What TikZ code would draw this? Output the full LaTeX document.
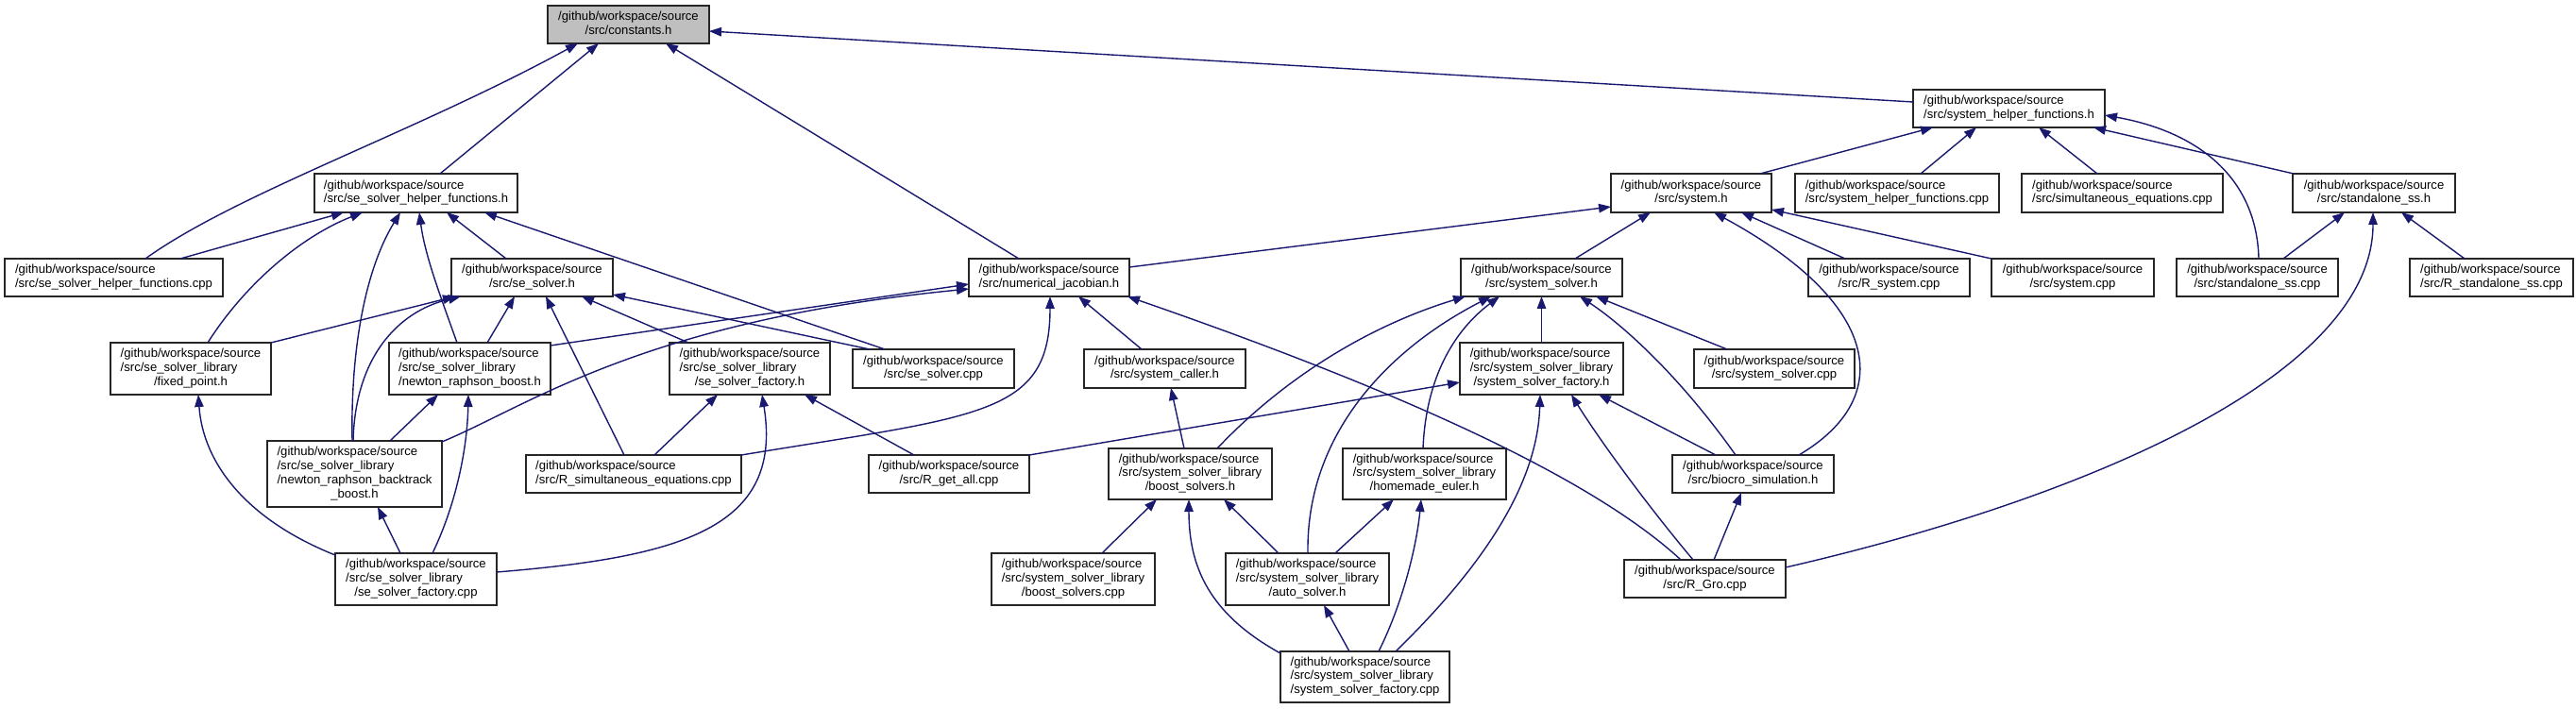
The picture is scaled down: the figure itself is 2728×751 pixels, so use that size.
\documentclass[tikz,border=0pt]{standalone}
\usepackage{fontspec}
\setmainfont{Liberation Sans}
\usetikzlibrary{arrows.meta}
\definecolor{mb}{HTML}{191970}
\definecolor{nodegray}{HTML}{BFBFBF}
\newcommand{\lbl}[2]{\begin{tabular}{@{}l@{}}#1\\\multicolumn{1}{@{}c@{}}{#2}\end{tabular}}
\newcommand{\gws}{/github/workspace/source}
\newcommand{\bx}[6]{\node[box,minimum width=#4pt,minimum height=#5pt] (#1) at (#2,#3) {#6};}
\begin{document}
\begin{tikzpicture}[x=1pt,y=-1pt,
  box/.style={draw=black!85,line width=1.4pt,fill=white,rectangle,inner sep=0pt,outer sep=0pt,
    font=\fontsize{13.1}{14.8}\selectfont},
  edge/.style={draw=mb,line width=1.4pt,-{Triangle[length=13pt,width=9.5pt]}}]
\fill[white] (0,0) rectangle (2728,751);
\useasboundingbox (0,0) rectangle (2728,751);
% row 0-1
\node[box,fill=nodegray,minimum width=171pt,minimum height=40pt] (const) at (665.5,26) {\lbl{\gws}{/src/constants.h}};
\bx{shfh}{2127.5}{115}{203}{40}{\lbl{\gws}{/src/system\_helper\_functions.h}}
% row 2
\bx{sshh}{440.5}{204.5}{215}{41}{\lbl{\gws}{/src/se\_solver\_helper\_functions.h}}
\bx{sysh}{1791}{204.5}{170}{41}{\lbl{\gws}{/src/system.h}}
\bx{shfcpp}{2009}{204.5}{216}{41}{\lbl{\gws}{/src/system\_helper\_functions.cpp}}
\bx{simeq}{2247.5}{204.5}{213}{41}{\lbl{\gws}{/src/simultaneous\_equations.cpp}}
\bx{ssth}{2514}{204.5}{172}{41}{\lbl{\gws}{/src/standalone\_ss.h}}
% row 3
\bx{sshcpp}{120.5}{294}{231}{40}{\lbl{\gws}{/src/se\_solver\_helper\_functions.cpp}}
\bx{seh}{563.5}{294}{171}{40}{\lbl{\gws}{/src/se\_solver.h}}
\bx{nj}{1111}{294}{170}{40}{\lbl{\gws}{/src/numerical\_jacobian.h}}
\bx{ssolh}{1632.5}{294}{171}{40}{\lbl{\gws}{/src/system\_solver.h}}
\bx{rsys}{2000.5}{294}{171}{40}{\lbl{\gws}{/src/R\_system.cpp}}
\bx{syscpp}{2195}{294}{172}{40}{\lbl{\gws}{/src/system.cpp}}
\bx{sscpp}{2390.5}{294}{171}{40}{\lbl{\gws}{/src/standalone\_ss.cpp}}
\bx{rss}{2638.5}{294}{173}{40}{\lbl{\gws}{/src/R\_standalone\_ss.cpp}}
% row 4
\bx{fp}{202}{390.5}{170}{55}{\lbl{\gws\\/src/se\_solver\_library}{/fixed\_point.h}}
\bx{nrb}{497.5}{390.5}{171}{55}{\lbl{\gws\\/src/se\_solver\_library}{/newton\_raphson\_boost.h}}
\bx{sesf}{794}{390.5}{170}{55}{\lbl{\gws\\/src/se\_solver\_library}{/se\_solver\_factory.h}}
\bx{secpp}{988.5}{390.5}{171}{41}{\lbl{\gws}{/src/se\_solver.cpp}}
\bx{sysc}{1233.5}{390.5}{171}{41}{\lbl{\gws}{/src/system\_caller.h}}
\bx{ssfh}{1632.5}{390.5}{173}{55}{\lbl{\gws\\/src/system\_solver\_library}{/system\_solver\_factory.h}}
\bx{ssolcpp}{1879}{390.5}{170}{41}{\lbl{\gws}{/src/system\_solver.cpp}}
% row 5
\bx{nrbb}{375.5}{502}{185}{70}{\lbl{\gws\\/src/se\_solver\_library\\/newton\_raphson\_backtrack}{\_boost.h}}
\bx{rsim}{671}{502}{228}{40}{\lbl{\gws}{/src/R\_simultaneous\_equations.cpp}}
\bx{rget}{1005}{502}{170}{40}{\lbl{\gws}{/src/R\_get\_all.cpp}}
\bx{bsh}{1260.5}{502}{173}{54}{\lbl{\gws\\/src/system\_solver\_library}{/boost\_solvers.h}}
\bx{heh}{1508.5}{502}{173}{54}{\lbl{\gws\\/src/system\_solver\_library}{/homemade\_euler.h}}
\bx{bio}{1856.5}{502}{171}{40}{\lbl{\gws}{/src/biocro\_simulation.h}}
% row 6
\bx{sesfcpp}{440.5}{613.5}{171}{55}{\lbl{\gws\\/src/se\_solver\_library}{/se\_solver\_factory.cpp}}
\bx{bscpp}{1136.5}{613.5}{173}{55}{\lbl{\gws\\/src/system\_solver\_library}{/boost\_solvers.cpp}}
\bx{auto}{1384.5}{613.5}{173}{55}{\lbl{\gws\\/src/system\_solver\_library}{/auto\_solver.h}}
\bx{rgro}{1805.5}{613}{171}{40}{\lbl{\gws}{/src/R\_Gro.cpp}}
% row 7
\bx{ssfcpp}{1445.5}{717}{179}{54}{\lbl{\gws\\/src/system\_solver\_library}{/system\_solver\_factory.cpp}}
% edges
\draw[edge] ([xshift=33.5pt]sshcpp.north) .. controls (250,205) and (440,140) .. ([xshift=-53.5pt]const.south);
\draw[edge] ([xshift=25.5pt]sshh.north) -- ([xshift=-31.5pt]const.south);
\draw[edge] ([xshift=-32pt]nj.north) -- ([xshift=39.5pt]const.south);
\draw[edge] ([yshift=7pt]shfh.west) -- ([yshift=-7pt]const.east);
\draw[edge] ([xshift=73pt]sysh.north) -- ([xshift=-80.5pt]shfh.south);
\draw[edge] ([xshift=25pt]shfcpp.north) -- ([xshift=-34.5pt]shfh.south);
\draw[edge] ([xshift=-26.5pt]simeq.north) -- ([xshift=31.5pt]shfh.south);
\draw[edge] ([xshift=-85pt]ssth.north) -- ([xshift=89.5pt]shfh.south);
\draw[edge] ([xshift=1.5pt]sscpp.north) .. controls (2390,190) and (2330,140) .. ([yshift=-7pt]shfh.east);
\draw[edge] ([xshift=70.5pt]sshcpp.north) -- ([xshift=-76.5pt]sshh.south);
\draw[edge] ([xshift=18pt]fp.north) .. controls (260,300) and (320,250) .. ([xshift=-56.5pt]sshh.south);
\draw[edge] ([xshift=-2.5pt]nrbb.north) .. controls (371,360) and (390,280) .. ([xshift=-16.5pt]sshh.south);
\draw[edge] ([xshift=-13.5pt]nrb.north) .. controls (465,310) and (450,270) .. ([xshift=3.5pt]sshh.south);
\draw[edge] ([xshift=-27.5pt]seh.north) -- ([xshift=32.5pt]sshh.south);
\draw[edge] ([xshift=-51.5pt]secpp.north) -- ([xshift=72.5pt]sshh.south);
\draw[edge] (fp.north east) -- ([xshift=4pt]seh.south west);
\draw[edge] ([xshift=-1.5pt]nrbb.north) .. controls (376,380) and (420,330) .. ([xshift=-75.5pt]seh.south);
\draw[edge] ([xshift=18.5pt]nrb.north) -- ([xshift=-18.5pt]seh.south);
\draw[edge] ([xshift=-10pt]rsim.north) -- ([xshift=14.5pt]seh.south);
\draw[edge] ([xshift=-65pt]sesf.north) -- ([xshift=52.5pt]seh.south);
\draw[edge] ([xshift=-67.5pt]secpp.north) -- ([yshift=2pt]seh.south east);
\draw[edge] ([yshift=-3pt]nrb.north east) -- ([yshift=-7pt]nj.west);
\draw[edge] ([yshift=-1pt]nrbb.north east) .. controls (560,430) and (680,340) .. ([yshift=-12pt]nj.west);
\draw[edge] (rsim.north east) .. controls (1040,440) and (1112,440) .. ([xshift=1pt]nj.south);
\draw[edge] ([xshift=-24.5pt]sysc.north) -- ([xshift=31pt]nj.south);
\draw[edge] ([xshift=-25.5pt]rgro.north) .. controls (1690,510) and (1500,420) .. ([xshift=-2pt]nj.south east);
\draw[edge] ([yshift=11pt]nj.east) -- ([yshift=-14.5pt]sysh.west);
\draw[edge] ([xshift=35.5pt]ssolh.north) -- ([xshift=-43pt]sysh.south);
\draw[edge] ([xshift=48.5pt]bio.north) .. controls (2010,420) and (1990,320) .. ([xshift=24pt]sysh.south);
\draw[edge] ([xshift=-46.5pt]rsys.north) -- ([xshift=53pt]sysh.south);
\draw[edge] (syscpp.north west) -- ([yshift=3pt]sysh.south east);
\draw[edge] (ssfh.north) -- (ssolh.south);
\draw[edge] ([xshift=28.5pt]bsh.north) .. controls (1360,400) and (1450,345) .. ([xshift=-80.5pt]ssolh.south);
\draw[edge] ([xshift=0.5pt]auto.north) .. controls (1383,460) and (1470,370) .. ([xshift=-53.5pt]ssolh.south);
\draw[edge] ([xshift=-1.5pt]heh.north) .. controls (1510,400) and (1540,350) .. ([xshift=-44.5pt]ssolh.south);
\draw[edge] ([xshift=-18.5pt]bio.north) .. controls (1780,400) and (1720,345) .. ([xshift=40.5pt]ssolh.south);
\draw[edge] ([xshift=-50pt]ssolcpp.north) -- ([xshift=57.5pt]ssolh.south);
\draw[edge] (rget.north east) -- ([yshift=-14.5pt]ssfh.west);
\draw[edge] ([xshift=32.5pt]ssfcpp.north) .. controls (1560,610) and (1628,520) .. ([xshift=-1.5pt]ssfh.south);
\draw[edge] ([xshift=-12.5pt]rgro.north) .. controls (1740,530) and (1690,460) .. ([xshift=31.5pt]ssfh.south);
\draw[edge] ([xshift=-39.5pt]bio.north) -- ([xshift=60.5pt]ssfh.south);
\draw[edge] ([xshift=-6.5pt]bsh.north) -- ([xshift=6.5pt]sysc.south);
\draw[edge] ([xshift=30.5pt]bscpp.north) -- ([xshift=-35.5pt]bsh.south);
\draw[edge] ([yshift=-2pt]ssfcpp.north west) .. controls (1280,650) and (1259,600) .. ([xshift=-1.5pt]bsh.south);
\draw[edge] ([xshift=-30.5pt]auto.north) -- ([xshift=35.5pt]bsh.south);
\draw[edge] ([xshift=29.5pt]auto.north) -- ([xshift=-32.5pt]heh.south);
\draw[edge] ([xshift=14.5pt]ssfcpp.north) .. controls (1485,640) and (1500,580) .. ([xshift=-3.5pt]heh.south);
\draw[edge] ([xshift=-16.5pt]ssfcpp.north) -- ([xshift=17.5pt]auto.south);
\draw[edge] ([xshift=9.5pt]rgro.north) -- ([xshift=-12.5pt]bio.south);
\draw[edge] ([yshift=12pt]rgro.east) .. controls (2200,530) and (2513,400) .. ([xshift=-1pt]ssth.south);
\draw[edge] ([xshift=27.5pt]sscpp.north) -- ([xshift=-31pt]ssth.south);
\draw[edge] ([xshift=-28.5pt]rss.north) -- ([xshift=29pt]ssth.south);
\draw[edge] ([xshift=22pt]rsim.north) -- ([xshift=-34pt]sesf.south);
\draw[edge] ([yshift=7.5pt]sesfcpp.east) .. controls (720,590) and (830,560) .. ([xshift=13pt]sesf.south);
\draw[edge] ([xshift=-37pt]rget.north) -- ([xshift=58pt]sesf.south);
\draw[edge] ([xshift=37.5pt]nrbb.north) -- ([xshift=-33.5pt]nrb.south);
\draw[edge] ([xshift=17.5pt]sesfcpp.north) .. controls (485,530) and (495,470) .. ([xshift=-1.5pt]nrb.south);
\draw[edge] ([xshift=-16.5pt]sesfcpp.north) -- ([xshift=24.5pt]nrbb.south);
\draw[edge] ([yshift=-2pt]sesfcpp.north west) .. controls (260,550) and (215,490) .. ([xshift=8pt]fp.south);
\end{tikzpicture}
\end{document}
